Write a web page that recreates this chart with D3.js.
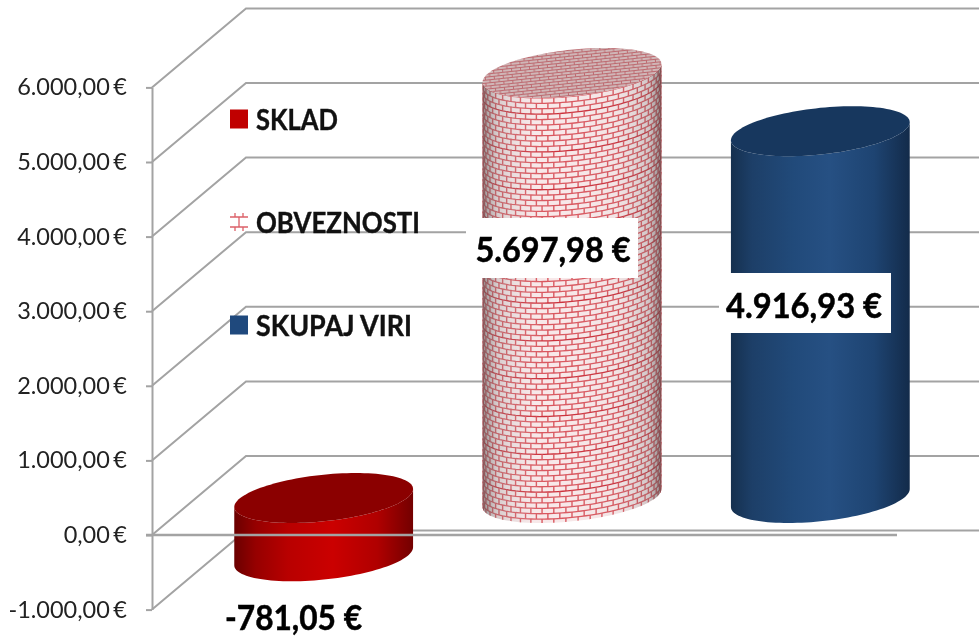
<!DOCTYPE html>
<html>
<head>
<meta charset="utf-8">
<script src="https://cdn.jsdelivr.net/npm/d3@7"></script>
<style>
  html, body { margin: 0; padding: 0; background: #fff; }
  svg { display: block; font-family: Lato, "Open Sans", sans-serif; filter: blur(0.45px); }
</style>
</head>
<body>
<script>
const categories = ["SKLAD", "OBVEZNOSTI", "SKUPAJ VIRI"];
const values = [-781.05, 5697.98, 4916.93];
const tickValues = [-1000, 0, 1000, 2000, 3000, 4000, 5000, 6000];

const fullwidth = 979;
const fullheight = 636;

// 3d box of the chart: how far the back wall sits from the front axis
const axisX = 152;
const depthX = 94, depthY = -79;
// the cylinders stand about half way into the box
const baseShift = -37;
const tiltK = 9, capH = 25;

// hand placed labels, same order as categories
const labelBox = [null, [466, 218, 172, 60], [719, 273, 172, 60]];
const labelPos = [[293.5, 630], [553, 262], [804, 318]];
const labelLen = [137, 155, 156];
const legendY = [119, 222, 325];
const legendLen = [82, 164, 156];

const locale = d3.formatLocale({ decimal: ",", thousands: ".", grouping: [3], currency: ["", " €"], minus: "-" });
const euro = v => locale.format(",.2f")(v) + " €";

const y = d3.scaleLinear().domain([-1000, 6000]).range([609.6, 87.4]);
const x = d3.scaleBand().domain(categories).range([199.5, 944.5]).paddingInner(0.28).paddingOuter(0.14);

const svg = d3.select("body").append("svg")
  .attr("width", fullwidth)
  .attr("height", fullheight);

const defs = svg.append("defs");

function shade(id, stops) {
  defs.append("linearGradient").attr("id", id)
    .selectAll("stop").data(stops).enter().append("stop")
    .attr("offset", d => d[0])
    .attr("stop-color", d => d[1])
    .attr("stop-opacity", d => d[2] === undefined ? 1 : d[2]);
}
shade("body-SKLAD", [[0, "#6a0000"], [0.12, "#960000"], [0.3, "#b80000"], [0.55, "#cb0000"], [0.8, "#b00000"], [1, "#730000"]]);
shade("body-SKUPAJ", [[0, "#15304f"], [0.12, "#1d3f68"], [0.35, "#214a7a"], [0.55, "#265083"], [0.8, "#1e4472"], [1, "#132b4a"]]);
shade("brick-shade", [[0, "#555", 0.6], [0.08, "#888", 0.3], [0.35, "#fff", 0], [0.75, "#aaa", 0.08], [0.93, "#777", 0.3], [1, "#444", 0.6]]);

// small brick texture for the top of the cylinder and for the legend key
const capPattern = defs.append("pattern").attr("id", "cap-bricks")
  .attr("patternUnits", "userSpaceOnUse").attr("width", 9).attr("height", 6)
  .attr("patternTransform", "rotate(-6)");
capPattern.append("rect").attr("width", 9).attr("height", 6).attr("fill", "#d0b6b7");
capPattern.append("path").attr("d", "M0 1.5H9M0 4.5H9M2 0V1.5M6.5 1.5V4.5M2 4.5V6")
  .attr("stroke", "#bd6a70").attr("stroke-width", 1).attr("fill", "none");

const capColor = { SKLAD: "#8b0000", OBVEZNOSTI: "url(#cap-bricks)", "SKUPAJ VIRI": "#17375e" };
const bodyColor = { SKLAD: "url(#body-SKLAD)", "SKUPAJ VIRI": "url(#body-SKUPAJ)" };

// walls
const wall = svg.append("g").attr("fill", "none").attr("stroke", "#a3a3a3").attr("stroke-width", 2);
wall.selectAll("path").data(tickValues).enter().append("path")
  .attr("d", d => d3.line()([[axisX, y(d)], [axisX + depthX, y(d) + depthY], [fullwidth, y(d) + depthY]]));

// axis
const axis = svg.append("g")
  .attr("transform", `translate(${axisX},0)`)
  .call(d3.axisLeft(y).tickValues(tickValues).tickSize(6).tickPadding(19).tickFormat(euro).tickSizeOuter(0));
axis.select(".domain").attr("stroke", "#a3a3a3").attr("stroke-width", 2);
axis.selectAll(".tick line").attr("stroke", "#a3a3a3").attr("stroke-width", 2);
axis.selectAll(".tick text")
  .attr("fill", "#222")
  .style("font-size", "23.5px")
  .style("word-spacing", "-2.5px")
  .style("font-family", "Lato, sans-serif");

// ellipse seen at an angle, t=0 is the right side, t=PI the left
const ringPoint = (cx, cy, W, t) => [cx + W * Math.cos(t), cy - tiltK * Math.cos(t) + Math.sqrt(capH * capH - tiltK * tiltK) * Math.sin(t)];
const frontArc = (cx, cy, W) => d3.range(0, 61).map(i => ringPoint(cx, cy, W, Math.PI * i / 60));
const line = d3.line();

const cyl = svg.append("g");
categories.forEach((name, i) => {
  const v = values[i];
  const W = x.bandwidth() / 2;
  const cx = x(name) + W;
  const yTop = y(Math.max(v, 0)) + baseShift;
  const yBottom = y(Math.min(v, 0)) + baseShift;
  const bodyD = line(frontArc(cx, yBottom, W).concat(frontArc(cx, yTop, W).reverse())) + "Z";
  const capD = line(d3.range(0, 121).map(k => ringPoint(cx, yTop, W, Math.PI * k / 60))) + "Z";
  const g = cyl.append("g");

  if (name === "OBVEZNOSTI") {
    const clipId = "brick-clip";
    defs.append("clipPath").attr("id", clipId).append("path").attr("d", bodyD);
    const bricks = g.append("g").attr("clip-path", `url(#${clipId})`);
    bricks.append("rect").attr("x", cx - W).attr("y", yTop - capH).attr("width", 2 * W).attr("height", yBottom - yTop + 2 * capH).attr("fill", "#f8e8e9");
    const rowStep = 5.4;
    const rows = d3.range(0, Math.ceil((yBottom - yTop + capH) / rowStep));
    rows.forEach(r => {
      const rowY = yTop + r * rowStep;
      bricks.append("path").attr("d", line(frontArc(cx, rowY, W)))
        .attr("fill", "none").attr("stroke", r % 7 === 3 ? "#cb2f3a" : "#d9575f").attr("stroke-width", 1.3);
      const joints = d3.range(0, 24).map(k => (k + (r % 2 ? 0.5 : 0)) * Math.PI / 23);
      bricks.append("path")
        .attr("d", joints.map(t => {
          const p = ringPoint(cx, rowY, W, t);
          return `M${p[0]},${p[1]}v${rowStep}`;
        }).join(""))
        .attr("fill", "none").attr("stroke", "#d9575f").attr("stroke-width", 1.4);
    });
    g.append("path").attr("d", bodyD).attr("fill", "url(#brick-shade)");
  } else {
    g.append("path").attr("d", bodyD).attr("fill", bodyColor[name]);
  }
  g.append("path").attr("d", capD).attr("fill", capColor[name]);
});

// zero line runs in front of the red cylinder
svg.append("line")
  .attr("x1", axisX - 6).attr("x2", 897)
  .attr("y1", y(0)).attr("y2", y(0))
  .attr("stroke", "#a3a3a3").attr("stroke-width", 2.5);

// legend
const legend = svg.append("g");
categories.forEach((name, i) => {
  const ly = legendY[i];
  if (name === "OBVEZNOSTI") {
    legend.append("path")
      .attr("d", `M230 ${ly - 5}H248M230 ${ly + 5}H248M235 ${ly - 9}V${ly - 5}M243 ${ly - 9}V${ly - 5}M239 ${ly - 5}V${ly + 5}M235 ${ly + 5}V${ly + 9}M243 ${ly + 5}V${ly + 9}`)
      .attr("stroke", "#dc6068").attr("stroke-width", 1.3).attr("fill", "none");
  } else {
    legend.append("rect").attr("x", 230).attr("y", ly - 9.5).attr("width", 18).attr("height", 19)
      .attr("fill", name === "SKLAD" ? "#c00000" : "#1f497d");
  }
  legend.append("text").attr("x", 256).attr("y", ly + 11)
    .attr("font-size", 29).attr("font-weight", 700).attr("fill", "#111")
    .attr("stroke", "#111").attr("stroke-width", 0.4)
    .attr("textLength", legendLen[i]).attr("lengthAdjust", "spacingAndGlyphs")
    .text(name);
});

// data labels
const labels = svg.append("g");
categories.forEach((name, i) => {
  const box = labelBox[i];
  if (box) labels.append("rect").attr("x", box[0]).attr("y", box[1]).attr("width", box[2]).attr("height", box[3]).attr("fill", "#fff");
  labels.append("text").attr("x", labelPos[i][0]).attr("y", labelPos[i][1])
    .attr("text-anchor", "middle").attr("font-size", 35).attr("font-weight", 700).attr("fill", "#000")
    .attr("stroke", "#000").attr("stroke-width", 0.5)
    .attr("textLength", labelLen[i]).attr("lengthAdjust", "spacingAndGlyphs")
    .text(euro(values[i]));
});
</script>
</body>
</html>
